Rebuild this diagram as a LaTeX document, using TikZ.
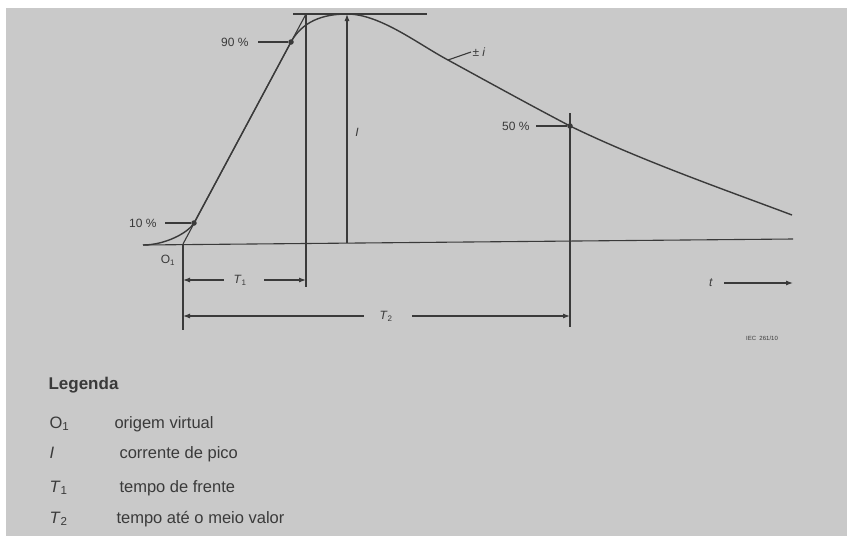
\documentclass[tikz,border=0pt]{standalone}
\usepackage{fontspec}
\setmainfont{Liberation Sans}
\usetikzlibrary{arrows.meta}
\definecolor{paper}{RGB}{201,201,201}
\definecolor{ink}{RGB}{58,58,58}
\newcommand{\legfont}{\fontsize{16.5}{19}\selectfont}

\begin{document}
\begin{tikzpicture}[x=1pt,y=-1pt,color=ink,line width=1.1pt]
\tikzstyle{every node}=[font=\fontsize{12}{14}\selectfont,inner sep=1pt]
\tikzstyle{dot}=[circle,fill=ink,inner sep=0pt,minimum size=5.5pt]
\tikzstyle{arr}=[-{Latex[length=7pt,width=5pt]}]
\tikzstyle{wave}=[line width=1.4pt]

\useasboundingbox (0,0) rectangle (847,539);
\fill[white] (0,0) rectangle (847,539);
\fill[paper] (6,8) rectangle (847,536);

% axis, peak line and the points of the wave
\coordinate (x0) at (143,245);
\coordinate (x1) at (793,239);
\coordinate (h0) at (293,14);
\coordinate (h1) at (427,14);
\coordinate (o1) at (183,244);
\coordinate (top) at (306,14);
\coordinate (peak) at (347,14);
\coordinate (ib) at (347,243);
\coordinate (pi) at (448,60);
\coordinate (tail) at (792,215);
\node[dot] (p10) at (194,223) {};
\node[dot] (p90) at (291,42) {};
\node[dot] (p50) at (570,126) {};

\draw (x0) -- (x1);
\draw (h0) -- (h1);
\draw (o1) -- (top);

\draw[wave] (x0) .. controls (165,245) and (188,233) .. (p10.center)
  -- (p90.center) .. controls (302,22) and (322,14) .. (peak)
  .. controls (380,14) and (418,44) .. (pi)
  .. controls (490,83) and (530,105) .. (p50.center)
  .. controls (640,160) and (720,188) .. (tail);

% peak value
\draw[arr] (ib) -- (peak);
\node (Ilab) at (357,132) {\textit{I}};

% verticals
\coordinate (v0) at (183,330);
\coordinate (v1) at (306,287);
\coordinate (v2a) at (570,113);
\coordinate (v2b) at (570,327);
\draw (o1) -- (v0);
\draw (top) -- (v1);
\draw (v2a) -- (v2b);

% percentage labels
\node[anchor=east] (l90) at (250,42) {90 \%};
\draw ([xshift=8pt]l90.east) -- (p90);
\node[anchor=east] (l10) at (158,223) {10 \%};
\draw ([xshift=7pt]l10.east) -- (p10);
\node[anchor=east] (l50) at (531,126) {50 \%};
\draw ([xshift=5pt]l50.east) -- (p50);
\node[anchor=west] (lpm) at (471,52) {± \textit{i}};
\draw (pi) -- (lpm.west);
\node (O1) at (168,260) {O\textsubscript{1}};

% times
\coordinate (a1) at (183,280);
\coordinate (b1) at (306,280);
\node (T1) at (240,280) {\textit{T}\textsubscript{1}};
\draw[arr] ([xshift=-8pt]T1.west) -- (a1);
\draw[arr] ([xshift=16pt]T1.east) -- (b1);

\coordinate (a2) at (183,316);
\coordinate (b2) at (570,316);
\node (T2) at (386,316) {\textit{T}\textsubscript{2}};
\draw[arr] ([xshift=-14pt]T2.west) -- (a2);
\draw[arr] ([xshift=18pt]T2.east) -- (b2);

\node (tlab) at (711,283) {\textit{t}};
\coordinate (tend) at (793,283);
\draw[arr] ([xshift=10pt]tlab.east) -- (tend);

\node (iec) at (762,338) {\fontsize{6}{7}\selectfont IEC\ \ 261/10};

% legend
\node[anchor=base west,font=\fontsize{17}{20}\selectfont\bfseries] (leg) at (47,389) {Legenda};
\node[anchor=base west,font=\legfont] (s1) at (48,428) {O\textsubscript{1}};
\node[anchor=base west,font=\legfont] (d1) at (113,428) {origem virtual};
\node[anchor=base west,font=\legfont] (s2) at (48,458) {\textit{I}};
\node[anchor=base west,font=\legfont] (d2) at (118,458) {corrente de pico};
\node[anchor=base west,font=\legfont] (s3) at (48,492) {\textit{T}\textsubscript{1}};
\node[anchor=base west,font=\legfont] (d3) at (118,492) {tempo de frente};
\node[anchor=base west,font=\legfont] (s4) at (48,523) {\textit{T}\textsubscript{2}};
\node[anchor=base west,font=\legfont] (d4) at (115,523) {tempo até o meio valor};

\end{tikzpicture}
\end{document}
